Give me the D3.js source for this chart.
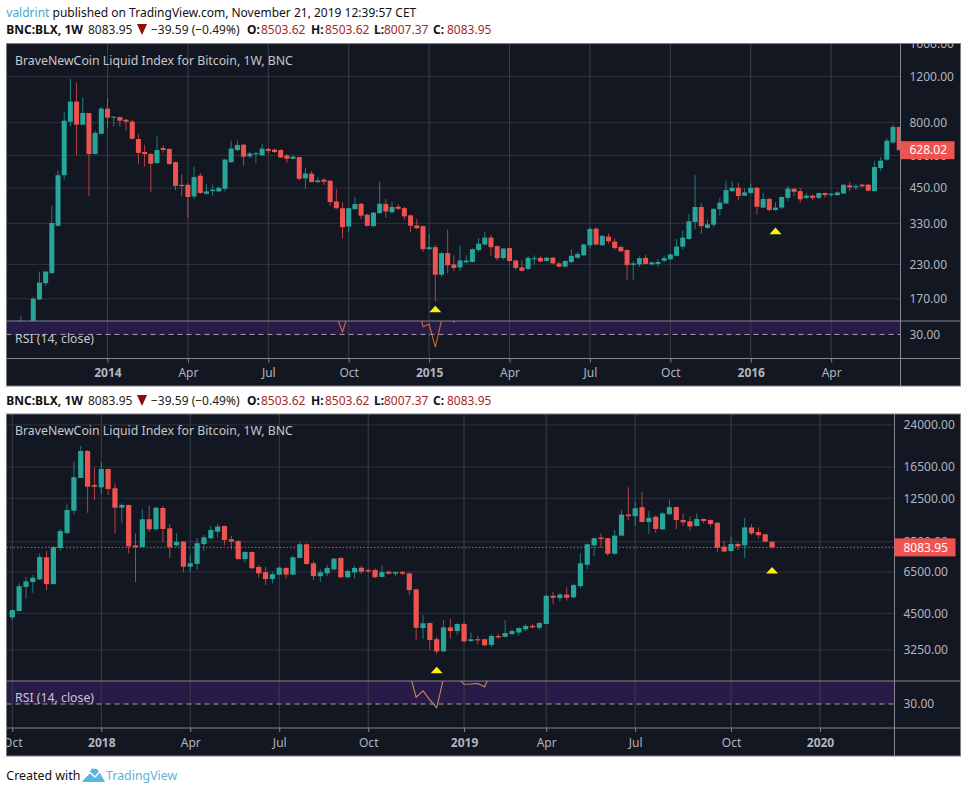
<!DOCTYPE html>
<html><head><meta charset="utf-8">
<script src="https://cdn.jsdelivr.net/npm/d3@7/dist/d3.min.js"></script>
<style>
html,body{margin:0;padding:0;background:#fff}
svg{display:block}
text{font-family:"Noto Sans",sans-serif}
.axis text{fill:#b2b5be;font-size:12px}
.axis .domain{display:none}
</style></head><body>
<svg id="c" width="967" height="793"></svg>
<script>
/* ---------- top chart: BLX weekly, 2013-2016 ---------- */
const opens1=[125,120,140,169,195,213,323,504,807,963,786,871,607,726,905,836,840,821,807,693,618,607,561,640,635,565,463,463,418,502,428,438,437,447,565,629,659,595,606,600,635,631,629,600,582,591,490,511,474.5,484.6,480,400,377,321,374,392,356,322,361,391,364,382,377,354,324,322,263,267.6,210,254,230,224,234,235,261,274,291,270,243,265.5,238,224,221,240.6,243.6,237,244,232,225.5,234.6,244,249,272,315,272,293.7,281,268,261,229,230,243.6,230,231,237.6,240.6,248,269,287.6,334,381,317,326,374,393,438,451,421,431,451,379,409,371,379,413,447,438,413,421,413,431,423,423,429,461,453,464,464,438,537,578,672,770];
const highs1=[146,135,173,216,216,385,526,881,1180,1140,1000,871,746,918,991,848,845,826,821,724,659,613,709,656,637,569,506,471,544,514,468,464,457,582,683,684,664,618,618,664,640,637,633,606,604,593,537,523,496,492,483,447,398,378,416,395,359,365,474.5,409,399,391,381,356,343,323,300,273,255,312,249,271,249,264.5,289.6,305.6,298,272,265,266,240,240,247,249,247,245.5,245,235,238,263,256,276,319,319,298,301.6,289,272,262,237,247,250,236.6,241,248,253,287.6,309.6,358,504,395,341,376,413,481,479,471,449,469,455,431,413,398,418,459,451,451,431,426,432,433,431,438,468,474.5,466,465,465,572,591,698,786,772];
const lows1=[120,118,135,168,190,212,321,485,774,600,786,418,607,720,760,774,774,747,689,556,544,436,557,613,552,442,418,347,409,428,425,421,433,437,562,622,547,585,561,598,610,612,586,561,581,481,447,473,470,463,385,374,290,306,372,343,321,320,359,347,360,371,341,306,314,257,262,165.7,206,213,216.6,217,232,234,256,272,248,238,240,235,219.6,216,219.6,230,234,235,230,224,224,233,241.5,248,264.5,271,271,276,262,257,201,201,225,230,228,225,234.6,239,247,263,286,314,301,315,319,353,391,435.6,404,419.6,428,356,377,366,369,374,401,418,395,409,405,409,413,418,421,428,438,442,455,437,437,523,572,664,628];
const closes1=[140,130,170,196,216,331,504,814,963,786,871,607,731,905,836,843,814,807,695,613,607,557,629,629,556,459,458,416,496,431,437,444,451,578,637,657,593,610,612,637,624,618,589,582,593,488,511,474.5,481,476,398,377,319,377,391,353,323,362.5,392,366,381,375,351,323,316,263,267.6,210,254,228.4,223,238,238,263,276,291,267.6,243,264.5,237,223,217.5,243.6,243,236,244,232,225.5,237,248,252,274,314,274,295.6,282,265.5,258,228.4,232,243,231,234,235,243,251,269,291,336,381,322,327,375,396,442,451,419.6,433,451,382,409,371,379,416,448,435.6,407.6,421,413,431,423,428,433,463,453,458,457,440,541.6,573,683,770,628.02];
const xTickBars1=[14,27,40,53,66,79,92,105,118,131];
const xTickLabels1=["2014","Apr","Jul","Oct","2015","Apr","Jul","Oct","2016","Apr"];
const priceTicks1=[170,230,330,450,600,800,1200,1600];
const rsiBars1=[51,52,53,54,64,65,66,67,68,69,70,71];
const rsiValues1=[43.6,32,46.6,null,58,35.8,37.6,20.5,40.3,45,39.3,44];
const markerBars1=[67,122];
const markerPrices1=[160,318];
const lastPrice1=628.02;

/* ---------- bottom chart: BLX weekly, 2017-2019 ---------- */
const opens2=[4342,4593,5693,5945,6087,7405,5832,8035,9193,11200,14970,19025,14067,13780,16215,13660,11500,11780,8230,8105,10380,9490,11470,9575,8230,8510,6810,6980,8335,8765,9290,9770,8690,8550,7285,7755,6795,6490,6100,6350,6730,6350,7360,8310,7020,6260,6420,6650,7360,6200,6470,6750,6611,6611,6220,6510,6400,6490,6420,5570,3950,4130,3575,3210,3975,3845,4095,3520,3575,3575,3400,3680,3650,3745,3795,3905,4025,3960,4095,5260,5155,5315,5190,5730,6925,8230,8820,8770,7640,8975,10820,10670,11550,10130,10610,9490,10855,11570,10308,10190,9770,10400,10308,10065,8135,7820,8335,8230,9650,9266,9080,8503.62];
const highs2=[4662,5872,6218,6320,7665,7845,8175,9530,11845,17300,19890,19196,16460,17255,16265,14281,11950,11820,9160,11370,11740,11610,11720,9950,9160,8550,7550,8770,9040,9790,9975,9810,8960,8610,7795,7795,6925,6810,6510,6810,6795,7500,8490,8390,7165,6650,6925,7340,7430,6650,6860,6860,6690,6710,6925,6570,6530,6570,6455,5590,4430,4155,3655,4240,4280,4125,4180,3790,3680,3595,3740,3755,4240,3905,3975,4090,4090,4170,5300,5450,5400,5670,5870,7665,8390,8820,9160,8790,9432,11266,13790,12130,13240,11150,10750,11040,12390,11620,10930,10660,10930,10460,10370,10100,8575,8870,8440,10490,9950,9650,9140,8503.62];
const lows2=[4240,4565,5142,5405,6049,5535,5832,7845,9080,10870,14970,10997,12313,12980,12870,9160,10005,7665,5930,8105,9290,9400,8440,7350,8135,6470,6510,6650,7845,8690,8840,8250,7945,7255,7050,6650,6170,5785,5870,6310,6100,6320,7320,6925,6049,5950,6260,6611,6160,6160,6140,6385,6455,6160,6200,6370,6260,6320,5295,3550,3580,3248,3135,3190,3605,3710,3485,3495,3415,3360,3340,3590,3635,3710,3695,3845,3940,3880,4085,4875,4975,5030,5155,5620,6650,7490,8055,7490,7570,8975,10308,9800,10100,9100,9195,9432,10820,9490,9800,9370,9730,10020,9730,7745,7745,7795,7897,7350,9030,8745,8440,8007.37];
const closes2=[4634,5727,5978,6176,7427,5832,8105,9345,11266,15070,19025,13856,13856,16215,13575,11500,11780,8160,8105,10380,9490,11500,9520,8105,8490,6810,7020,8390,8840,9432,9730,8630,8510,7285,7755,6720,6420,6100,6370,6750,6350,7405,8310,6980,6260,6470,6730,7320,6200,6555,6730,6510,6530,6200,6490,6400,6490,6400,5535,3960,4120,3550,3210,3975,3845,4095,3510,3575,3540,3390,3680,3635,3780,3845,3950,4025,3975,4130,5260,5170,5315,5170,5785,7020,8310,8765,8710,7640,8975,10820,10670,11440,10130,10510,9520,10930,11550,10308,10100,9730,10400,10220,9950,8055,7795,8335,8160,9650,9160,9010,8510,8083.95];
const xTickBars2=[0,13,26,39,52,66,78,91,105,118];
const xTickLabels2=["Oct","2018","Apr","Jul","Oct","2019","Apr","Jul","Oct","2020"];
const priceTicks2=[3250,4500,6500,8500,12500,16500,24000];
const rsiBars2=[58,59,60,61,62,63,64,65,66,67,68,69,70];
const rsiValues2=[53.5,35,39.7,33,27.26,49,52,50,44.6,44.8,45.2,42.8,54];
const markerBars2=[62,111];
const markerPrices2=[2802,6791];
const lastPrice2=8083.95;

const UP="#26a69a",DOWN="#ef5350",BG="#131722",GRID="#2f333e",VGRID="#3a3e4a",SEP="#85878f";
const svg=d3.select("#c");
const defs=svg.append("defs");

function pane(cfg){
  const {id,L,R,axisX,T,mainB,rsiB,B,xRange,xDomain,yDomain,rsiDomain,o,h,l,c,xBars,xLabels,pTicks,rBars,rVals,mBars,mPrices,last,lineColor,showLast,bw}=cfg;
  const x=d3.scaleLinear().domain(xDomain).range(xRange);
  const y=d3.scaleLog().domain(yDomain).range([mainB,T]);
  const r=d3.scaleLinear().domain(rsiDomain).range([rsiB,mainB]);
  const g=svg.append("g");
  g.append("rect").attr("x",L).attr("y",T).attr("width",R-L).attr("height",B-T).attr("fill",BG);
  defs.append("clipPath").attr("id",id+"m").append("rect").attr("x",L).attr("y",T).attr("width",axisX-L).attr("height",mainB-T);
  defs.append("clipPath").attr("id",id+"r").append("rect").attr("x",L).attr("y",mainB).attr("width",axisX-L).attr("height",rsiB-mainB);
  defs.append("clipPath").attr("id",id+"a").append("rect").attr("x",L).attr("y",T).attr("width",R-L).attr("height",B-T);

  // RSI band
  g.append("rect").attr("x",L).attr("y",mainB).attr("width",axisX-L).attr("height",r(30)-mainB).attr("fill","#291b47");
  // grids
  g.append("g").selectAll("line").data(pTicks).join("line")
    .attr("x1",L).attr("x2",axisX).attr("y1",d=>y(d)).attr("y2",d=>y(d)).attr("stroke",GRID).attr("stroke-width",1);
  g.append("g").attr("clip-path",`url(#${id}a)`).selectAll("line").data(xBars).join("line")
    .attr("x1",d=>x(d)).attr("x2",d=>x(d)).attr("y1",T).attr("y2",rsiB).attr("stroke",VGRID).attr("stroke-width",1);

  // RSI line and level
  g.append("line").attr("x1",L).attr("x2",axisX).attr("y1",r(30)).attr("y2",r(30))
    .attr("stroke","#a3a3ad").attr("stroke-dasharray","5,4");
  const rsiLine=d3.line().defined(d=>d[1]!==null).x(d=>x(d[0])).y(d=>r(d[1]));
  g.append("path").attr("clip-path",`url(#${id}r)`).attr("fill","none").attr("stroke",lineColor).attr("stroke-width",1.1)
    .attr("d",rsiLine(d3.zip(rBars,rVals)));

  // candles
  const cg=g.append("g").attr("clip-path",`url(#${id}m)`);
  const idx=d3.range(o.length);
  if(showLast){
    cg.append("line").attr("x1",L).attr("x2",axisX).attr("y1",y(last)).attr("y2",y(last))
      .attr("stroke",DOWN).attr("stroke-dasharray","1.5,2").attr("opacity",.95);
  }
  cg.selectAll("line.w").data(idx).join("line").attr("class","w")
    .attr("x1",i=>x(i)).attr("x2",i=>x(i)).attr("y1",i=>y(h[i])).attr("y2",i=>y(l[i]))
    .attr("stroke",i=>c[i]>=o[i]?UP:DOWN).attr("stroke-opacity",.72).attr("stroke-width",1);
  cg.selectAll("rect.b").data(idx).join("rect").attr("class","b")
    .attr("x",i=>x(i)-bw/2).attr("width",bw)
    .attr("y",i=>y(Math.max(o[i],c[i])))
    .attr("height",i=>Math.max(1,Math.abs(y(o[i])-y(c[i]))))
    .attr("fill",i=>c[i]>=o[i]?UP:DOWN);

  // markers
  g.append("g").selectAll("path").data(d3.zip(mBars,mPrices)).join("path")
    .attr("fill","#fff000")
    .attr("d",d=>{const X=x(d[0]),Y=y(d[1]);return `M${X},${Y}L${X+6},${Y+6.6}L${X-6},${Y+6.6}Z`;});

  // separators and frame
  [mainB,rsiB].forEach(v=>g.append("line").attr("x1",L).attr("x2",R).attr("y1",v).attr("y2",v).attr("stroke",SEP));
  g.append("line").attr("x1",axisX).attr("x2",axisX).attr("y1",T).attr("y2",B).attr("stroke",SEP);
  g.append("rect").attr("x",L).attr("y",T).attr("width",R-L).attr("height",B-T).attr("fill","none").attr("stroke","#7b7d85");

  // axes
  const ac=g.append("g").attr("clip-path",`url(#${id}a)`);
  ac.append("g").attr("class","axis").attr("transform",`translate(${axisX},0)`)
    .call(d3.axisRight(y).tickValues(pTicks).tickFormat(d3.format(".2f")).tickSize(0).tickPadding(9));
  ac.append("g").attr("class","axis").attr("transform",`translate(${axisX},0)`)
    .call(d3.axisRight(r).tickValues([30]).tickFormat(d3.format(".2f")).tickSize(0).tickPadding(9));
  const ax=ac.append("g").attr("class","axis").attr("transform",`translate(0,${rsiB})`)
    .call(d3.axisBottom(x).tickValues(xBars).tickFormat((d,i)=>xLabels[i]).tickSize(4).tickPadding(6));
  ax.selectAll("line").attr("stroke",SEP);
  ax.selectAll("text").attr("font-weight",(d,i)=>/^\d/.test(xLabels[i])?700:400).attr("fill","#c4c6cc");

  // price tag
  const ty=y(last);
  g.append("rect").attr("x",axisX).attr("y",ty-9).attr("width",cfg.tagW).attr("height",18).attr("fill",DOWN);
  g.append("text").attr("x",axisX+9).attr("y",ty+4.3).attr("fill","#fff").attr("font-size",12).text(d3.format(".2f")(last));

  // titles
  const tt=(t,tx,ty2,fs)=>g.append("text").attr("x",tx).attr("y",ty2).attr("fill","#c6c8cd").attr("font-size",fs).text(t);
  tt("BraveNewCoin Liquid Index for Bitcoin, 1W, BNC",15,T+21,12.3);
  tt("RSI (14, close)",15,cfg.rsiLabelY,12.3);
}

pane({id:"a",L:6.5,R:960.5,axisX:900.5,T:43.5,mainB:321,rsiB:358.5,B:386,
  xRange:[20.9,899.2],xDomain:[0,142],yDomain:[139.8,1605],rsiDomain:[12.07,40],
  o:opens1,h:highs1,l:lows1,c:closes1,xBars:xTickBars1,xLabels:xTickLabels1,pTicks:priceTicks1,
  rBars:rsiBars1,rVals:rsiValues1,mBars:markerBars1,mPrices:markerPrices1,last:lastPrice1,
  lineColor:"#cf6a32",showLast:false,bw:5,tagW:54,rsiLabelY:343});
pane({id:"b",L:6.5,R:960.5,axisX:894.5,T:414,mainB:681,rsiB:728,B:756,
  xRange:[12.3,820],xDomain:[0,118],yDomain:[2468,26427],rsiDomain:[12.22,47.04],
  o:opens2,h:highs2,l:lows2,c:closes2,xBars:xTickBars2,xLabels:xTickLabels2,pTicks:priceTicks2,
  rBars:rsiBars2,rVals:rsiValues2,mBars:markerBars2,mPrices:markerPrices2,last:lastPrice2,
  lineColor:"#c58a5c",showLast:true,bw:5.2,tagW:61,rsiLabelY:702});

/* ---------- header and footer text ---------- */
function hdr(y){
  const DR="#a5282a";
  const seg=[["BNC:BLX, 1W",6.3,"#111",700],["8083.95",88,"#222",400],["−39.59 (−0.49%)",151,"#222",400],
   ["O:",247,"#111",700],["8503.62",261,DR,400],["H:",311,"#111",700],["8503.62",325,DR,400],
   ["L:",374,"#111",700],["8007.37",384,DR,400],["C:",433,"#111",700],["8083.95",447,DR,400]];
  seg.forEach(s=>svg.append("text").attr("x",s[1]).attr("y",y).attr("fill",s[2]).attr("font-weight",s[3]).attr("font-size",12).text(s[0]));
  svg.append("path").attr("fill","#8b0a0a").attr("d",`M137,${y-10}L147,${y-10}L142,${y+1}Z`);
}
svg.append("text").attr("x",6.3).attr("y",17).attr("font-size",12).attr("fill","#111")
  .call(t=>{t.append("tspan").attr("fill","#46a7cd").text("valdrint");t.append("tspan").text(" published on TradingView.com, November 21, 2019 12:39:57 CET");});
hdr(34);hdr(405);
svg.append("text").attr("x",6.3).attr("y",780).attr("font-size",12.4).attr("fill","#111").text("Created with");
svg.append("path").attr("fill","#5cb5de").attr("d","M82,782L88,774L92,768.5L97,769L100,773L105,782Z");
svg.append("path").attr("fill","none").attr("stroke","#fff").attr("stroke-width",1.4).attr("d","M84,778L90,772.5L95,777L100,771.5L104,775");
svg.append("text").attr("x",106).attr("y",780).attr("font-size",12.4).attr("fill","#5bb4da").text("TradingView");
</script>
</body></html>
